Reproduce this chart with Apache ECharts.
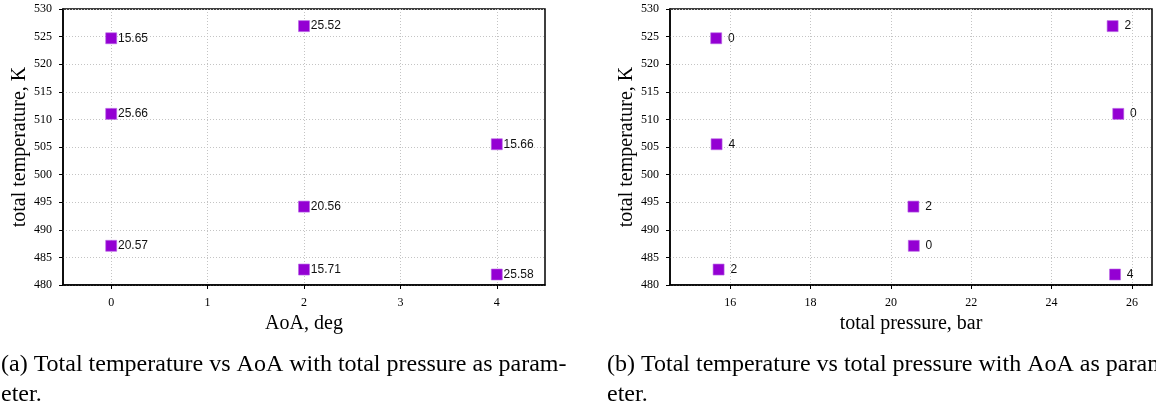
<!DOCTYPE html>
<html>
<head>
<meta charset="utf-8">
<script src="https://cdn.jsdelivr.net/npm/echarts@6/dist/echarts.min.js"></script>
<style>
html,body{margin:0;padding:0;background:#fff;}
#chart{width:1156px;height:407px;}
</style>
</head>
<body>
<div id="chart"></div>
<script>
// ---- data ----
const aoa      = [0, 0, 0, 2, 2, 2, 4, 4];
const pressure = [15.65, 25.66, 20.57, 25.52, 20.56, 15.71, 15.66, 25.58];
const temperature = [524.7, 511.0, 487.1, 526.9, 494.2, 482.8, 505.5, 481.9];
const xTicksA = [0, 1, 2, 3, 4];
const xTicksB = [16, 18, 20, 22, 24, 26];
const yTicks = [480, 485, 490, 495, 500, 505, 510, 515, 520, 525, 530];
const captionA = ['(a) Total temperature vs AoA with total pressure as param-', 'eter.'];
const captionB = ['(b) Total temperature vs total pressure with AoA as param-', 'eter.'];

const dataA = aoa.map((a, i) => [a, temperature[i], pressure[i]]);
const dataB = pressure.map((p, i) => [p, temperature[i], aoa[i]]);

const serif = '"Liberation Serif", "Times New Roman", serif';
const sans = '"Liberation Sans", Arial, Helvetica, sans-serif';
const violet = '#9400d3';

function xAxisCfg(idx, name, min, max, ticks) {
  return {
    type: 'value', gridIndex: idx, min: min, max: max,
    name: name, nameLocation: 'middle', nameGap: 27,
    nameTextStyle: {fontFamily: serif, fontSize: 20, color: '#000'},
    axisLine: {show: true, onZero: false, lineStyle: {color: '#000', width: 1.5}},
    axisTick: {show: true, inside: false, length: 4, customValues: ticks, lineStyle: {color: '#000', width: 1}},
    axisLabel: {customValues: ticks, margin: 12, fontFamily: serif, fontSize: 12, color: '#000'},
    splitLine: {show: true, lineStyle: {color: '#c4c4c4', type: [1, 2], width: 1}}
  };
}
function yAxisCfg(idx) {
  return {
    type: 'value', gridIndex: idx, min: 480, max: 530, interval: 5,
    name: 'total temperature, K', nameLocation: 'middle', nameGap: 33, nameRotate: 90,
    nameTextStyle: {fontFamily: serif, fontSize: 20, color: '#000'},
    axisLine: {show: true, onZero: false, lineStyle: {color: '#000', width: 1.5}},
    axisTick: {show: true, inside: false, length: 4, lineStyle: {color: '#000', width: 1}},
    axisLabel: {customValues: yTicks, margin: 11, fontFamily: serif, fontSize: 12, color: '#000'},
    splitLine: {show: true, lineStyle: {color: '#c4c4c4', type: [1, 2], width: 1}}
  };
}

function captionEls(lines, x) {
  return lines.map((t, i) => ({
    type: 'text', left: x, top: 353 + i * 29.3,
    style: {text: t, font: '24px ' + serif, fill: '#000'}
  }));
}

const chart = echarts.init(document.getElementById('chart'), null, {renderer: 'canvas'});
chart.setOption({
  animation: false,
  backgroundColor: '#fff',
  grid: [
    {left: 63, top: 9, width: 482, height: 276, show: true, borderColor: '#000', borderWidth: 1.5, backgroundColor: 'transparent'},
    {left: 670, top: 9, width: 482, height: 276, show: true, borderColor: '#000', borderWidth: 1.5, backgroundColor: 'transparent'}
  ],
  xAxis: [
    xAxisCfg(0, 'AoA, deg', -0.5, 4.5, xTicksA),
    xAxisCfg(1, 'total pressure, bar', 14.5, 26.5, xTicksB)
  ],
  yAxis: [yAxisCfg(0), yAxisCfg(1)],
  series: [
    {
      type: 'scatter', xAxisIndex: 0, yAxisIndex: 0, data: dataA,
      symbol: 'rect', symbolSize: 11,
      itemStyle: {color: violet, borderColor: '#b866e6', borderWidth: 0.6, opacity: 1},
      label: {show: true, position: 'right', distance: 1, formatter: p => p.data[2].toFixed(2),
               fontFamily: sans, fontSize: 12, color: '#111'}
    },
    {
      type: 'scatter', xAxisIndex: 1, yAxisIndex: 1, data: dataB,
      symbol: 'rect', symbolSize: 11,
      itemStyle: {color: violet, borderColor: '#b866e6', borderWidth: 0.6, opacity: 1},
      label: {show: true, position: 'right', distance: 6, formatter: p => String(p.data[2]),
               fontFamily: sans, fontSize: 12, color: '#111'}
    }
  ],
  graphic: captionEls(captionA, 1).concat(captionEls(captionB, 607))
});
</script>
</body>
</html>
